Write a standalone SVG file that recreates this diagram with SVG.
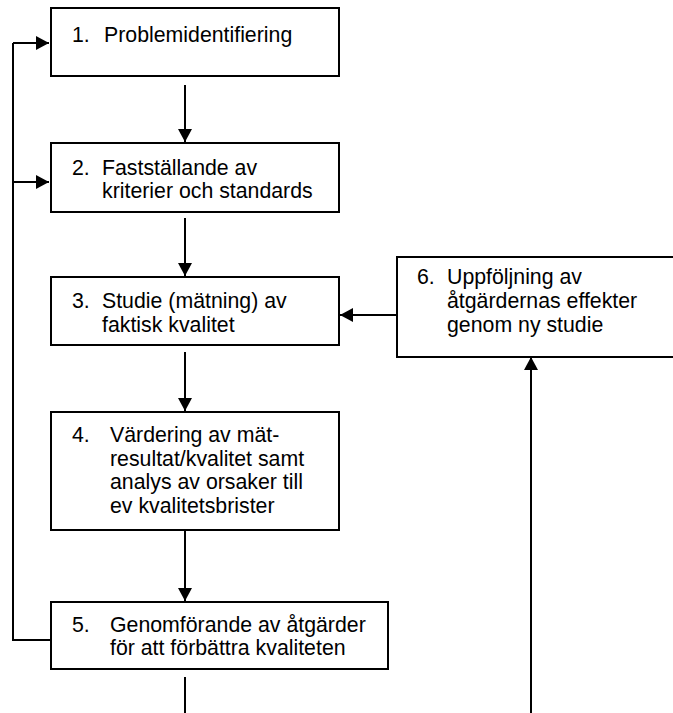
<svg xmlns="http://www.w3.org/2000/svg" width="673" height="713" viewBox="0 0 673 713">
<defs>
<style>
.box{fill:#fff;stroke:#000;stroke-width:2}
.t{font-family:"Liberation Sans",Arial,sans-serif;font-size:21.3px;fill:#000}
.c{fill:none;stroke:#000;stroke-width:2}
</style>
<marker id="ah" markerWidth="14" markerHeight="14" refX="13" refY="7" orient="auto" markerUnits="userSpaceOnUse">
<path d="M0,0 L13,7 L0,14 Z" fill="#000"/>
</marker>
</defs>
<rect width="673" height="713" fill="#fff"/>
<g id="connectors">
<path class="c" d="M185,85 V142" marker-end="url(#ah)"/>
<path class="c" d="M185,218 V276" marker-end="url(#ah)"/>
<path class="c" d="M185,352 V411" marker-end="url(#ah)"/>
<path class="c" d="M185,530 V601" marker-end="url(#ah)"/>
<path class="c" d="M397,315 H340" marker-end="url(#ah)"/>
<path class="c" d="M185,677 V713"/>
<path class="c" d="M531,713 V357" marker-end="url(#ah)"/>
<path class="c" d="M50,640 H13 V43"/>
<path class="c" d="M13,43 H49" marker-end="url(#ah)"/>
<path class="c" d="M13,182 H49" marker-end="url(#ah)"/>
</g>
<g id="n1">
<rect class="box" x="51" y="8" width="288" height="68"/>
<text class="t" x="72" y="42">1.</text>
<text class="t" x="104" y="42">Problemidentifiering</text>
</g>
<g id="n2">
<rect class="box" x="51" y="143" width="288" height="69"/>
<text class="t" x="72" y="175">2.</text>
<text class="t" x="102" y="175">Fastställande av</text>
<text class="t" x="102" y="198">kriterier och standards</text>
</g>
<g id="n3">
<rect class="box" x="51" y="277" width="288" height="68"/>
<text class="t" x="72" y="308">3.</text>
<text class="t" x="102" y="308">Studie (mätning) av</text>
<text class="t" x="102" y="332">faktisk kvalitet</text>
</g>
<g id="n4">
<rect class="box" x="51" y="412" width="288" height="118"/>
<text class="t" x="72" y="442">4.</text>
<text class="t" x="110" y="442">Värdering av mät-</text>
<text class="t" x="110" y="466">resultat/kvalitet samt</text>
<text class="t" x="110" y="489">analys av orsaker till</text>
<text class="t" x="110" y="513">ev kvalitetsbrister</text>
</g>
<g id="n5">
<rect class="box" x="51" y="602" width="337" height="67"/>
<text class="t" x="72" y="632">5.</text>
<text class="t" x="110" y="632">Genomförande av åtgärder</text>
<text class="t" x="110" y="655">för att förbättra kvaliteten</text>
</g>
<g id="n6">
<rect class="box" x="397" y="257" width="290" height="100"/>
<text class="t" x="417" y="284">6.</text>
<text class="t" x="447" y="284">Uppföljning av</text>
<text class="t" x="447" y="308">åtgärdernas effekter</text>
<text class="t" x="447" y="332">genom ny studie</text>
</g>
</svg>
